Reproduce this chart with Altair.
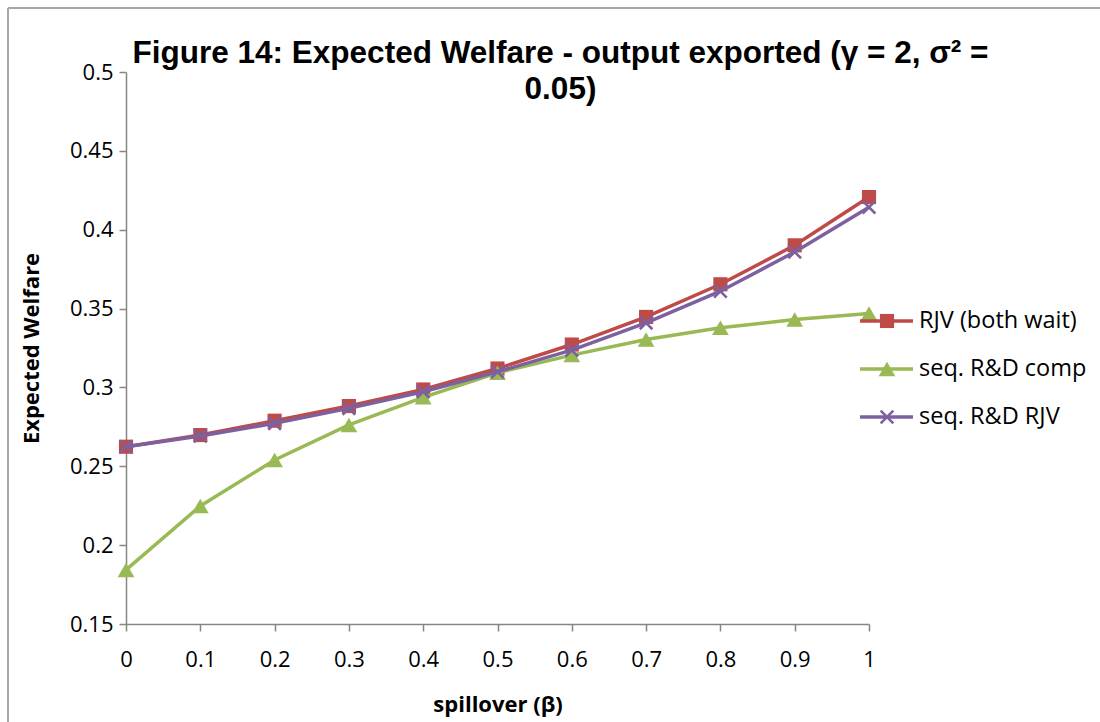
import altair as alt
import pandas as pd

# spillover values on the horizontal axis
beta = [0.0, 0.1, 0.2, 0.3, 0.4, 0.5, 0.6, 0.7, 0.8, 0.9, 1.0]

# expected welfare per scenario
rjv_both_wait = [0.2624, 0.2698, 0.2789, 0.2882, 0.2987, 0.3120, 0.3272, 0.3447, 0.3654, 0.3901, 0.4207]
seq_rd_comp = [0.1843, 0.2248, 0.2540, 0.2762, 0.2937, 0.3093, 0.3205, 0.3304, 0.3378, 0.3430, 0.3468]
seq_rd_rjv = [0.2624, 0.2692, 0.2772, 0.2867, 0.2973, 0.3099, 0.3236, 0.3409, 0.3610, 0.3859, 0.4143]

series_names = ["RJV (both wait)", "seq. R&D comp", "seq. R&D RJV"]
series_colors = ["#BE4B48", "#98B954", "#7D60A0"]
y_ticks = [0.15, 0.2, 0.25, 0.3, 0.35, 0.4, 0.45, 0.5]

rows = []
for name, vals in zip(series_names, [rjv_both_wait, seq_rd_comp, seq_rd_rjv]):
    for b, v in zip(beta, vals):
        rows.append({"beta": b, "welfare": v, "series": name})
df = pd.DataFrame(rows)
legend_df = pd.DataFrame({"series": series_names, "row": [0, 1, 2]})

W, H = 743, 552
LABEL_FONT = "Open Sans"
AXIS_GRAY = "#868686"

marker_styles = [
    dict(shape="square", size=200, filled=True, strokeWidth=1),
    dict(shape="triangle-up", size=280, filled=True, strokeWidth=1),
    dict(shape="M-1,-1L1,1M-1,1L1,-1", size=160, filled=False, strokeWidth=2.6),
]

x_enc = alt.X(
    "beta:Q",
    scale=alt.Scale(domain=[0, 1], nice=False, zero=False),
    axis=alt.Axis(
        values=beta, format="~g", title="spillover (β)",
        titleY=87, titleBaseline="alphabetic",
    ),
)
y_enc = alt.Y(
    "welfare:Q",
    scale=alt.Scale(domain=[0.15, 0.5], nice=False, zero=False),
    axis=alt.Axis(
        values=y_ticks, format="~g", title="Expected Welfare",
        titleX=-88, titleBaseline="alphabetic",
    ),
)
# legend rows stacked at the right of the plot
legend_y = alt.Y(
    "row:Q",
    scale=alt.Scale(domain=[0, 2], range=[249, 345], nice=False, zero=False),
    axis=None,
)

# outer frame of the chart
frame = [
    alt.Chart(legend_df).mark_rule(color="#A6A6A6", strokeWidth=2).encode(
        x=alt.value(-118), y=alt.value(-64), y2=alt.value(700)
    ),
    alt.Chart(legend_df).mark_rule(color="#A6A6A6", strokeWidth=2).encode(
        x=alt.value(-118), x2=alt.value(1100), y=alt.value(-64)
    ),
]

main_layers = []
legend_layers = []
for name, color, style in zip(series_names, series_colors, marker_styles):
    base = alt.Chart(df).transform_filter(alt.datum.series == name)
    main_layers.append(base.mark_line(color=color, strokeWidth=3.5).encode(x=x_enc, y=y_enc))
    main_layers.append(
        base.mark_point(color=color, opacity=1, **style).encode(x=x_enc, y=y_enc)
    )
    lbase = alt.Chart(legend_df).transform_filter(alt.datum.series == name)
    legend_layers.append(
        lbase.mark_rule(color=color, strokeWidth=3.5).encode(
            x=alt.value(734), x2=alt.value(787), y=legend_y
        )
    )
    legend_layers.append(
        lbase.mark_point(color=color, opacity=1, **style).encode(x=alt.value(761), y=legend_y)
    )

legend_layers.append(
    alt.Chart(legend_df).mark_text(
        align="left", baseline="middle", font=LABEL_FONT, fontSize=23.5, color="black"
    ).encode(x=alt.value(793), y=legend_y, text="series:N")
)

chart = (
    alt.layer(alt.layer(*frame, *main_layers), alt.layer(*legend_layers))
    .resolve_scale(y="independent")
    .properties(
        width=W,
        height=H,
        title=alt.TitleParams(
            text=["Figure 14: Expected Welfare - output exported (γ = 2, σ² =", "0.05)"],
            font="Liberation Sans",
            fontSize=31.5,
            fontWeight="bold",
            color="black",
            anchor="middle",
            dx=63,
            lineHeight=36,
            offset=-98,
        ),
        autosize=alt.AutoSizeParams(type="none"),
        padding={"left": 126, "top": 72, "right": 231, "bottom": 98},
        background="white",
    )
    .configure_view(stroke=None)
    .configure_axis(
        grid=False,
        domainColor=AXIS_GRAY,
        domainWidth=1.5,
        tickColor=AXIS_GRAY,
        tickWidth=1.5,
        tickSize=7,
        labelFont=LABEL_FONT,
        labelFontSize=22,
        labelColor="black",
        labelFlush=False,
        labelOverlap=False,
        titleFont=LABEL_FONT,
        titleFontSize=22,
        titleFontWeight="bold",
        titleColor="black",
    )
    .configure_axisX(labelPadding=18)
    .configure_axisY(labelPadding=6)
)

chart.save("out.html", embed_options={"renderer": "svg", "actions": False})
